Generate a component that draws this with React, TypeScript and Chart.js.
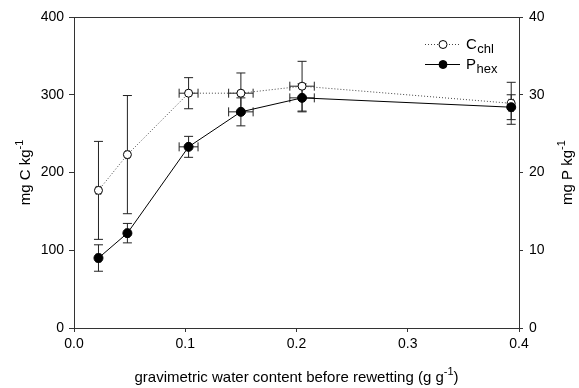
import React, { useEffect, useRef } from "react";
import { Chart, registerables } from "chart.js";

Chart.register(...registerables);

// ---- data ----
const waterContent = [0.022, 0.048, 0.103, 0.15, 0.205, 0.393];
const waterContentErr = [0.002, 0.0015, 0.0085, 0.011, 0.011, 0.002];
const cChl = [177, 223, 302, 302, 311, 289];
const cChlErr = [63, 76, 20, 26, 32, 27];
const pHex = [9.0, 12.2, 23.3, 27.8, 29.6, 28.4];
const pHexErr = [1.7, 1.25, 1.35, 1.8, 1.8, 1.6];
const xTicks = [0, 0.1, 0.2, 0.3, 0.4];
const yLeftTicks = [0, 100, 200, 300, 400];
const yRightTicks = [0, 10, 20, 30, 40];

const FONT = "'Liberation Sans', Arial, sans-serif";
const AXIS = "#333333";

const errors: Record<number, { xe: number[]; ye: number[] }> = {
  0: { xe: waterContentErr, ye: cChlErr },
  1: { xe: waterContentErr, ye: pHexErr },
};

const errorBarPlugin = {
  id: "errorBars",
  beforeDatasetsDraw(chart: any) {
    const ctx = chart.ctx;
    const xs = chart.scales.x;
    ctx.save();
    ctx.strokeStyle = "#222";
    ctx.lineWidth = 1;
    ctx.setLineDash([]);
    chart.data.datasets.forEach((ds: any, di: number) => {
      const ys = chart.scales[ds.yAxisID];
      const err = errors[di];
      ds.data.forEach((p: any, i: number) => {
        const px = xs.getPixelForValue(p.x);
        const py = ys.getPixelForValue(p.y);
        const yTop = ys.getPixelForValue(p.y + err.ye[i]);
        const yBot = ys.getPixelForValue(p.y - err.ye[i]);
        const xL = xs.getPixelForValue(p.x - err.xe[i]);
        const xR = xs.getPixelForValue(p.x + err.xe[i]);
        const cap = 4.5;
        ctx.beginPath();
        ctx.moveTo(px, yTop);
        ctx.lineTo(px, yBot);
        ctx.moveTo(px - cap, yTop);
        ctx.lineTo(px + cap, yTop);
        ctx.moveTo(px - cap, yBot);
        ctx.lineTo(px + cap, yBot);
        ctx.moveTo(xL, py);
        ctx.lineTo(xR, py);
        ctx.moveTo(xL, py - cap);
        ctx.lineTo(xL, py + cap);
        ctx.moveTo(xR, py - cap);
        ctx.lineTo(xR, py + cap);
        ctx.stroke();
      });
    });
    ctx.restore();
  },
};

function drawSup(ctx: any, main: string, sup: string, tail: string, size: number) {
  const supSize = size - 4;
  ctx.font = `${size}px ${FONT}`;
  const w1 = ctx.measureText(main).width;
  ctx.font = `${supSize}px ${FONT}`;
  const w2 = ctx.measureText(sup).width;
  ctx.font = `${size}px ${FONT}`;
  const w3 = ctx.measureText(tail).width;
  const total = w1 + w2 + w3;
  let x = -total / 2;
  ctx.textAlign = "left";
  ctx.textBaseline = "alphabetic";
  ctx.font = `${size}px ${FONT}`;
  ctx.fillText(main, x, 0);
  x += w1;
  ctx.font = `${supSize}px ${FONT}`;
  ctx.fillText(sup, x, -size * 0.5);
  x += w2;
  ctx.font = `${size}px ${FONT}`;
  ctx.fillText(tail, x, 0);
}

const decorPlugin = {
  id: "decor",
  afterDraw(chart: any) {
    const ctx = chart.ctx;
    const a = chart.chartArea;
    ctx.save();
    // top border
    ctx.strokeStyle = AXIS;
    ctx.lineWidth = 1;
    ctx.beginPath();
    ctx.moveTo(a.left, a.top + 0.5);
    ctx.lineTo(a.right, a.top + 0.5);
    ctx.stroke();

    ctx.fillStyle = "#000";
    // x title
    ctx.save();
    ctx.translate((a.left + a.right) / 2, 382);
    drawSup(ctx, "gravimetric water content before rewetting (g g", "-1", ")", 15);
    ctx.restore();
    // left title
    ctx.save();
    ctx.translate(30, (a.top + a.bottom) / 2);
    ctx.rotate(-Math.PI / 2);
    drawSup(ctx, "mg C kg", "-1", "", 15);
    ctx.restore();
    // right title
    ctx.save();
    ctx.translate(572, (a.top + a.bottom) / 2);
    ctx.rotate(-Math.PI / 2);
    drawSup(ctx, "mg P kg", "-1", "", 15);
    ctx.restore();

    // legend
    const lx0 = a.right - 94;
    const lx1 = a.right - 59;
    const mx = a.right - 76;
    const rows = [
      { y: 44, dash: [1, 2], fill: "#fff", main: "C", sub: "chl", color: "#444" },
      { y: 64, dash: [], fill: "#000", main: "P", sub: "hex", color: "#000" },
    ];
    rows.forEach((r) => {
      ctx.strokeStyle = r.color;
      ctx.lineWidth = 1;
      ctx.setLineDash(r.dash);
      ctx.beginPath();
      ctx.moveTo(lx0, r.y + 0.5);
      ctx.lineTo(lx1, r.y + 0.5);
      ctx.stroke();
      ctx.setLineDash([]);
      ctx.beginPath();
      ctx.arc(mx, r.y + 0.5, 4, 0, Math.PI * 2);
      ctx.fillStyle = r.fill;
      ctx.fill();
      ctx.strokeStyle = "#000";
      ctx.stroke();
      ctx.fillStyle = "#000";
      ctx.textAlign = "left";
      ctx.textBaseline = "alphabetic";
      ctx.font = `15px ${FONT}`;
      const tx = a.right - 53;
      ctx.fillText(r.main, tx, r.y + 5);
      const w = ctx.measureText(r.main).width;
      ctx.font = `13px ${FONT}`;
      ctx.fillText(r.sub, tx + w + 0.5, r.y + 9);
    });
    ctx.restore();
  },
};

export default function App() {
  const ref = useRef<HTMLCanvasElement | null>(null);
  useEffect(() => {
    document.body.style.margin = "0";
    const canvas = ref.current;
    if (!canvas) return;
    const tickFont = { family: FONT, size: 14 };
    const chart = new Chart(canvas, {
      type: "scatter",
      data: {
        datasets: [
          {
            label: "Cchl",
            data: waterContent.map((x, i) => ({ x, y: cChl[i] })),
            yAxisID: "y",
            showLine: true,
            borderColor: "#444",
            borderWidth: 1,
            borderDash: [1, 2],
            pointRadius: 4,
            pointBorderWidth: 1,
            pointBackgroundColor: "#fff",
            pointBorderColor: "#000",
            order: 2,
          },
          {
            label: "Phex",
            data: waterContent.map((x, i) => ({ x, y: pHex[i] })),
            yAxisID: "y1",
            showLine: true,
            borderColor: "#000",
            borderWidth: 1,
            pointRadius: 4.5,
            pointBorderWidth: 1,
            pointBackgroundColor: "#000",
            pointBorderColor: "#000",
            order: 1,
          },
        ],
      },
      options: {
        responsive: false,
        animation: false,
        devicePixelRatio: 1,
        layout: { padding: { top: 17, left: 0, right: 0, bottom: 0 } },
        plugins: { legend: { display: false }, tooltip: { enabled: false } },
        scales: {
          x: {
            type: "linear",
            min: 0,
            max: 0.4,
            afterFit: (s: any) => {
              s.height = 60;
            },
            afterBuildTicks: (s: any) => {
              s.ticks = xTicks.map((v) => ({ value: v }));
            },
            ticks: {
              font: tickFont,
              color: "#000",
              padding: 4,
              callback: (v: any) => Number(v).toFixed(1),
            },
            grid: { drawOnChartArea: false, drawTicks: true, tickLength: 4, color: AXIS },
            border: { color: AXIS, width: 1 },
          },
          y: {
            type: "linear",
            position: "left",
            min: 0,
            max: 400,
            afterFit: (s: any) => {
              s.width = 74;
            },
            afterBuildTicks: (s: any) => {
              s.ticks = yLeftTicks.map((v) => ({ value: v }));
            },
            ticks: { font: tickFont, color: "#000", padding: 5 },
            grid: { drawOnChartArea: false, drawTicks: true, tickLength: 5, color: AXIS },
            border: { color: AXIS, width: 1 },
          },
          y1: {
            type: "linear",
            position: "right",
            min: 0,
            max: 40,
            afterFit: (s: any) => {
              s.width = 60;
            },
            afterBuildTicks: (s: any) => {
              s.ticks = yRightTicks.map((v) => ({ value: v }));
            },
            ticks: { font: tickFont, color: "#000", padding: 6 },
            grid: { drawOnChartArea: false, drawTicks: true, tickLength: 4, color: AXIS },
            border: { color: AXIS, width: 1 },
          },
        },
      },
      plugins: [errorBarPlugin, decorPlugin],
    } as any);
    return () => chart.destroy();
  }, []);
  return (
    <div style={{ position: "absolute", left: 0, top: 0, width: 579, height: 388, background: "#fff" }}>
      <canvas ref={ref} width={579} height={388} />
    </div>
  );
}
